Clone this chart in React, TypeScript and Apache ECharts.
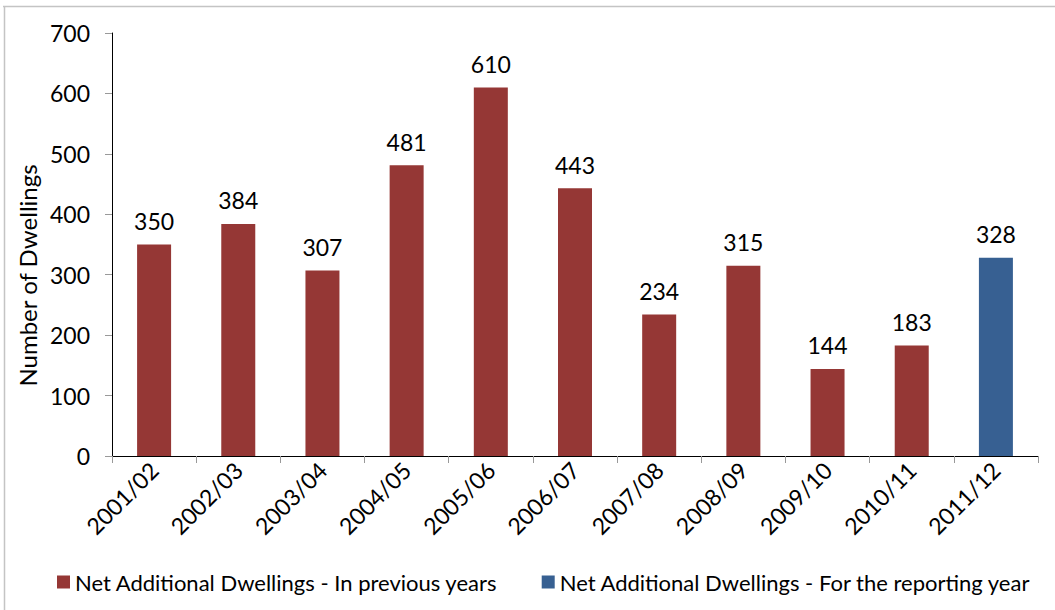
import React, { useEffect, useRef } from "react";
import * as echarts from "echarts";

const years = [
  "2001/02", "2002/03", "2003/04", "2004/05", "2005/06", "2006/07",
  "2007/08", "2008/09", "2009/10", "2010/11", "2011/12",
];
const previousYears = [350, 384, 307, 481, 610, 443, 234, 315, 144, 183, null];
const reportingYear = [null, null, null, null, null, null, null, null, null, null, 328];
const yTicks = { min: 0, max: 700, interval: 100 };

const FONT = "Lato, 'Open Sans', sans-serif";

export default function App() {
  const ref = useRef<HTMLDivElement>(null);

  useEffect(() => {
    document.body.style.margin = "0";
    const chart = echarts.init(ref.current!, null, { renderer: "svg" });
    const label = {
      show: true,
      position: "top",
      distance: 12,
      color: "#000",
      fontSize: 23,
      fontFamily: FONT,
    };
    chart.setOption({
      animation: false,
      textStyle: { fontFamily: FONT },
      graphic: [
        { type: "line", shape: { x1: 3, y1: 6.5, x2: 1055, y2: 6.5 }, style: { stroke: "#c4c4c4", lineWidth: 1.5 } },
        { type: "line", shape: { x1: 4.5, y1: 6, x2: 4.5, y2: 610 }, style: { stroke: "#c4c4c4", lineWidth: 1.5 } },
      ],
      grid: { left: 112, right: 17, top: 33, bottom: 154 },
      legend: {
        bottom: 12,
        left: 52,
        itemWidth: 13,
        itemHeight: 13,
        itemGap: 44,
        icon: "rect",
        textStyle: { fontSize: 22, color: "#000", fontFamily: FONT },
        data: [
          "Net Additional Dwellings - In previous years",
          "Net Additional Dwellings - For the reporting year",
        ],
      },
      xAxis: {
        type: "category",
        data: years,
        axisLine: { lineStyle: { color: "#000", width: 1 } },
        axisTick: { show: true, length: 7, lineStyle: { color: "#999" } },
        axisLabel: { rotate: 45, fontSize: 23, color: "#000", margin: 10, fontFamily: FONT },
      },
      yAxis: {
        type: "value",
        min: yTicks.min,
        max: yTicks.max,
        interval: yTicks.interval,
        name: "Number of Dwellings",
        nameLocation: "middle",
        nameGap: 70,
        nameTextStyle: { fontSize: 24, color: "#000", fontFamily: FONT, padding: [0, 62, 0, 0] },
        splitLine: { show: false },
        axisLine: { show: true, lineStyle: { color: "#000", width: 1 } },
        axisTick: { show: true, inside: false, length: 7, lineStyle: { color: "#999" } },
        axisLabel: { fontSize: 23, color: "#000", margin: 22, fontFamily: FONT },
      },
      series: [
        {
          name: "Net Additional Dwellings - In previous years",
          type: "bar",
          stack: "dwellings",
          data: previousYears,
          barWidth: 34,
          itemStyle: { color: "#953735" },
          label,
        },
        {
          name: "Net Additional Dwellings - For the reporting year",
          type: "bar",
          stack: "dwellings",
          data: reportingYear,
          barWidth: 34,
          itemStyle: { color: "#376092" },
          label,
        },
      ],
    });
    return () => chart.dispose();
  }, []);

  return <div ref={ref} style={{ width: 1055, height: 610, background: "#fff" }} />;
}
